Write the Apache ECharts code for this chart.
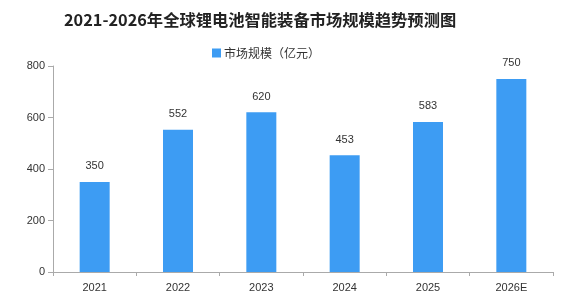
<!DOCTYPE html>
<html><head><meta charset="utf-8">
<script src="https://cdn.jsdelivr.net/npm/echarts@6/dist/echarts.min.js"></script>
<style>html,body{margin:0;padding:0;background:#fff}#c{width:565px;height:298px}</style>
</head><body><div id="c"></div>
<script>
const categories = ['2021','2022','2023','2024','2025','2026E'];
const values = [350, 552, 620, 453, 583, 750];
const yTicks = [0, 200, 400, 600, 800];
const chart = echarts.init(document.getElementById('c'));
chart.setOption({
  animation: false,
  title: {text: '2021-2026年全球锂电池智能装备市场规模趋势预测图', left: 59, top: 7,
    textStyle: {fontFamily: 'Noto Sans CJK SC', fontSize: 16.3, fontWeight: 'bold', color: '#222'}},
  legend: {data: ['市场规模（亿元）'], icon: 'rect', left: 207, top: 42, itemWidth: 9, itemHeight: 9, itemGap: 4,
    textStyle: {fontFamily: 'Noto Sans CJK SC', fontSize: 12, color: '#333', padding: [0,0,0,-2]}},
  grid: {left: 53, right: 12, top: 66, bottom: 26},
  xAxis: {type: 'category', data: categories,
    axisLine: {lineStyle: {color: '#aaa'}}, axisTick: {show: true, lineStyle: {color: '#aaa'}, length: 4},
    axisLabel: {color: '#333', fontSize: 11, margin: 10}},
  yAxis: {type: 'value', min: yTicks[0], max: yTicks[yTicks.length-1], interval: 200,
    axisLine: {show: true, lineStyle: {color: '#aaa'}}, axisTick: {show: true, length: 5, lineStyle: {color: '#aaa'}},
    splitLine: {show: false}, axisLabel: {color: '#333', fontSize: 11, margin: 8}},
  series: [{name: '市场规模（亿元）', type: 'bar', data: values, barWidth: 30,
    itemStyle: {color: '#3d9cf3'},
    label: {show: true, position: 'top', distance: 10, color: '#333', fontSize: 11}}]
});
</script></body></html>
